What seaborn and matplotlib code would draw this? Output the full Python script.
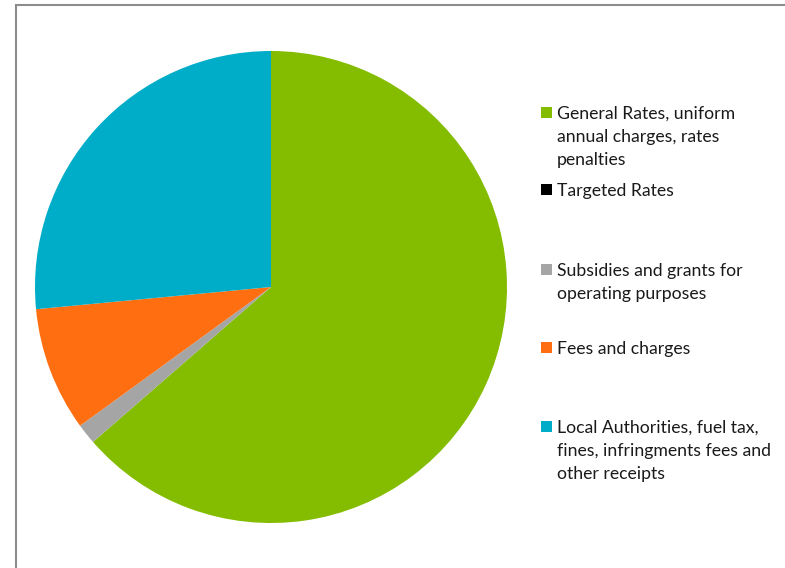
import matplotlib
matplotlib.use("Agg")
import matplotlib.pyplot as plt
from matplotlib.patches import Rectangle
import seaborn as sns

# Revenue sources (share of total, %)
categories = [
    "General Rates, uniform\nannual charges, rates\npenalties",
    "Targeted Rates",
    "Subsidies and grants for\noperating purposes",
    "Fees and charges",
    "Local Authorities, fuel tax,\nfines, infringments fees and\nother receipts",
]
shares = [63.6, 0.0, 1.4, 8.5, 26.5]
colors = ["#84BC00", "#000000", "#A5A5A5", "#FF6E10", "#00ADC8"]

sns.set_theme(style="white")
plt.rcParams["font.family"] = ["Lato", "DejaVu Sans"]

W, H = 785, 568
fig = plt.figure(figsize=(W / 100, H / 100), dpi=100)
fig.patch.set_facecolor("white")

# Chart frame (extends beyond right/bottom edges)
fig.add_artist(Rectangle((16 / W, -0.05), 1.2, (H - 5) / H + 0.05,
                         transform=fig.transFigure, fill=False,
                         edgecolor="#8C8C8C", linewidth=1.5))

# Pie axes: center (271, 287), radius 236 px
cx, cy, r = 271, 287, 236
ax = fig.add_axes([(cx - r) / W, (H - cy - r) / H, 2 * r / W, 2 * r / H])
ax.pie(shares, colors=colors, startangle=90, counterclock=False,
       radius=1, wedgeprops=dict(linewidth=0))
ax.set_xlim(-1, 1)
ax.set_ylim(-1, 1)
ax.set_aspect("auto")
ax.axis("off")

# Legend entries: first-line centre y (px)
first_line_y = [113, 190, 270, 348, 427]
for label, col, y in zip(categories, colors, first_line_y):
    fig.add_artist(Rectangle((541 / W, (H - y - 5) / H), 11 / W, 11 / H,
                             transform=fig.transFigure, facecolor=col,
                             edgecolor="none"))
    fig.text(557 / W, (H - y + 7) / H, label, fontsize=12.7,
             color="#1a1a1a", va="top", ha="left", linespacing=1.53)

fig.savefig("out.png", dpi=100, facecolor="white")
